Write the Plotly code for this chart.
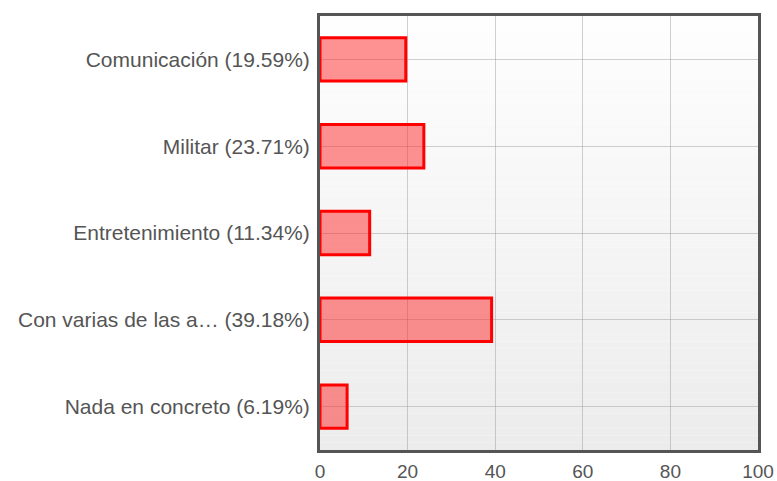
import plotly.graph_objects as go

categories = ["Comunicación", "Militar", "Entretenimiento", "Con varias de las a…", "Nada en concreto"]
percentages = [19.59, 23.71, 11.34, 39.18, 6.19]
tick_vals = [0, 20, 40, 60, 80, 100]

labels = [f"{c} ({p:.2f}%)" for c, p in zip(categories, percentages)]

fig = go.Figure()
fig.add_trace(go.Bar(
    x=percentages, y=labels, orientation="h",
    marker=dict(color="rgba(255,40,40,0.5)", line=dict(color="#ff0000", width=3)),
    width=0.5,
))

# vertical gradient background
shapes = []
n = 60
for i in range(n):
    t = i / (n - 1)
    v = int(round(254 - (254 - 236) * t))
    shapes.append(dict(type="rect", xref="x domain", yref="y domain",
                       x0=0, x1=1, y0=1 - (i + 1) / n, y1=1 - i / n,
                       fillcolor=f"rgb({v},{v},{v})", line=dict(width=0), layer="below"))

fig.update_layout(
    width=777, height=481,
    margin=dict(l=320, r=19, t=16, b=31, autoexpand=False),
    paper_bgcolor="white", plot_bgcolor="white",
    showlegend=False,
    shapes=shapes,
    font=dict(family="Liberation Sans, Arial, sans-serif", size=20, color="#555"),
)
fig.update_xaxes(range=[0, 100], tickvals=tick_vals, showgrid=True, gridcolor="rgba(150,150,150,0.45)",
                 gridwidth=1, zeroline=False, showline=True, linecolor="#555", linewidth=3, mirror=True,
                 ticks="outside", ticklen=2, tickcolor="rgba(0,0,0,0)", automargin=False,
                 tickfont=dict(size=19, color="#555"))
fig.update_yaxes(categoryorder="array", categoryarray=labels[::-1], showgrid=True,
                 gridcolor="rgba(150,150,150,0.45)", gridwidth=1, zeroline=False, showline=True,
                 linecolor="#555", linewidth=3, mirror=True, ticks="outside", ticklen=3,
                 tickcolor="rgba(0,0,0,0)", automargin=False, tickfont=dict(size=21, color="#555"))

fig.write_html("out.html", config={"displayModeBar": False},
               post_script="document.body.style.margin='0';document.body.style.overflow='hidden';")
